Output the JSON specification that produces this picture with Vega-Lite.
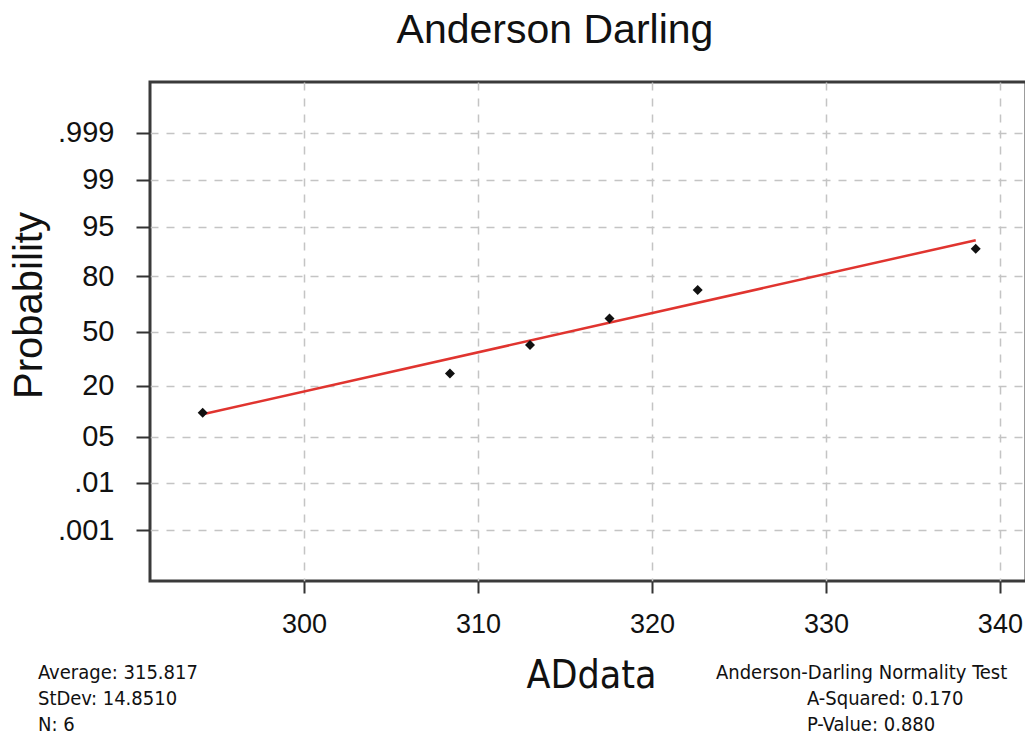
{
  "$schema": "https://vega.github.io/schema/vega-lite/v6.json",
  "autosize": "none",
  "padding": {"left": 150, "top": 82, "right": 0, "bottom": 154},
  "width": 876,
  "height": 499,
  "background": "white",
  "title": {
    "text": "Anderson Darling",
    "font": "Liberation Sans",
    "fontSize": 41,
    "fontWeight": "normal",
    "color": "#111",
    "offset": 30,
    "dx": -33
  },
  "config": {
    "view": {"stroke": "#3a3a3a", "strokeWidth": 3},
    "axis": {
      "domain": false,
      "gridColor": "#c4c4c4",
      "gridDash": [8, 8],
      "gridWidth": 1.5,
      "tickColor": "#333",
      "tickWidth": 2,
      "labelFont": "Liberation Sans",
      "labelColor": "#111",
      "titleColor": "#111",
      "titleFontWeight": "normal"
    },
    "text": {"font": "DejaVu Sans Condensed, Liberation Sans", "fontSize": 20, "align": "left", "baseline": "alphabetic", "color": "#111"}
  },
  "datasets": {
    "points": [
      {"ADdata": 294.18, "score": 3.37},
      {"ADdata": 308.39, "score": 4.16},
      {"ADdata": 312.99, "score": 4.73},
      {"ADdata": 317.56, "score": 5.26},
      {"ADdata": 322.63, "score": 5.83},
      {"ADdata": 338.61, "score": 6.66}
    ],
    "fit": [
      {"ADdata": 294.18, "score": 3.34},
      {"ADdata": 338.61, "score": 6.83}
    ],
    "notes": [
      {"note": "Average: 315.817"},
      {"note": "StDev: 14.8510"},
      {"note": "N: 6"},
      {"note": "Anderson-Darling Normality Test"},
      {"note": "A-Squared: 0.170"},
      {"note": "P-Value:  0.880"}
    ]
  },
  "layer": [
    {
      "data": {"name": "fit"},
      "mark": {"type": "line", "color": "#e0342f", "strokeWidth": 2.5},
      "encoding": {
        "x": {
          "field": "ADdata",
          "type": "quantitative",
          "scale": {"domain": [291.15, 341.5], "nice": false, "zero": false},
          "axis": {
            "title": "ADdata",
            "values": [300, 310, 320, 330, 340],
            "labelFontSize": 27,
            "tickSize": 12,
            "labelPadding": 18,
            "titleFont": "DejaVu Sans Condensed, Liberation Sans",
            "titleFontSize": 39,
            "titlePadding": 19,
            "titleX": 441
          }
        },
        "y": {
          "field": "score",
          "type": "quantitative",
          "scale": {"domain": [0, 10], "nice": false, "zero": false},
          "axis": {
            "title": "Probability",
            "values": [1.02, 1.97, 2.89, 3.91, 5.0, 6.11, 7.1, 8.04, 8.98],
            "labelExpr": "['.001', '.01', '05', '20', '50', '80', '95', '99', '.999'][indexof([1.02, 1.97, 2.89, 3.91, 5.0, 6.11, 7.1, 8.04, 8.98], datum.value)]",
            "labelFontSize": 29,
            "tickSize": 14,
            "labelPadding": 22,
            "titleFont": "Liberation Sans",
            "titleFontSize": 40,
            "titlePadding": 8,
            "titleY": 223
          }
        }
      }
    },
    {
      "data": {"name": "points"},
      "mark": {"type": "point", "shape": "diamond", "filled": true, "color": "#111", "size": 100, "opacity": 1},
      "encoding": {
        "x": {"field": "ADdata", "type": "quantitative"},
        "y": {"field": "score", "type": "quantitative"}
      }
    },
    {
      "data": {"name": "notes"},
      "transform": [{"filter": "datum.note == 'Average: 315.817'"}],
      "mark": {"type": "text"},
      "encoding": {"x": {"datum": 284.71, "type": "quantitative"}, "y": {"datum": -1.964, "type": "quantitative"}, "text": {"field": "note", "type": "nominal"}}
    },
    {
      "data": {"name": "notes"},
      "transform": [{"filter": "datum.note == 'StDev: 14.8510'"}],
      "mark": {"type": "text"},
      "encoding": {"x": {"datum": 284.71, "type": "quantitative"}, "y": {"datum": -2.485, "type": "quantitative"}, "text": {"field": "note", "type": "nominal"}}
    },
    {
      "data": {"name": "notes"},
      "transform": [{"filter": "datum.note == 'N: 6'"}],
      "mark": {"type": "text"},
      "encoding": {"x": {"datum": 284.71, "type": "quantitative"}, "y": {"datum": -3.006, "type": "quantitative"}, "text": {"field": "note", "type": "nominal"}}
    },
    {
      "data": {"name": "notes"},
      "transform": [{"filter": "datum.note == 'Anderson-Darling Normality Test'"}],
      "mark": {"type": "text"},
      "encoding": {"x": {"datum": 323.68, "type": "quantitative"}, "y": {"datum": -1.964, "type": "quantitative"}, "text": {"field": "note", "type": "nominal"}}
    },
    {
      "data": {"name": "notes"},
      "transform": [{"filter": "datum.note == 'A-Squared: 0.170'"}],
      "mark": {"type": "text"},
      "encoding": {"x": {"datum": 328.91, "type": "quantitative"}, "y": {"datum": -2.485, "type": "quantitative"}, "text": {"field": "note", "type": "nominal"}}
    },
    {
      "data": {"name": "notes"},
      "transform": [{"filter": "datum.note == 'P-Value:  0.880'"}],
      "mark": {"type": "text"},
      "encoding": {"x": {"datum": 328.91, "type": "quantitative"}, "y": {"datum": -3.006, "type": "quantitative"}, "text": {"field": "note", "type": "nominal"}}
    }
  ]
}
